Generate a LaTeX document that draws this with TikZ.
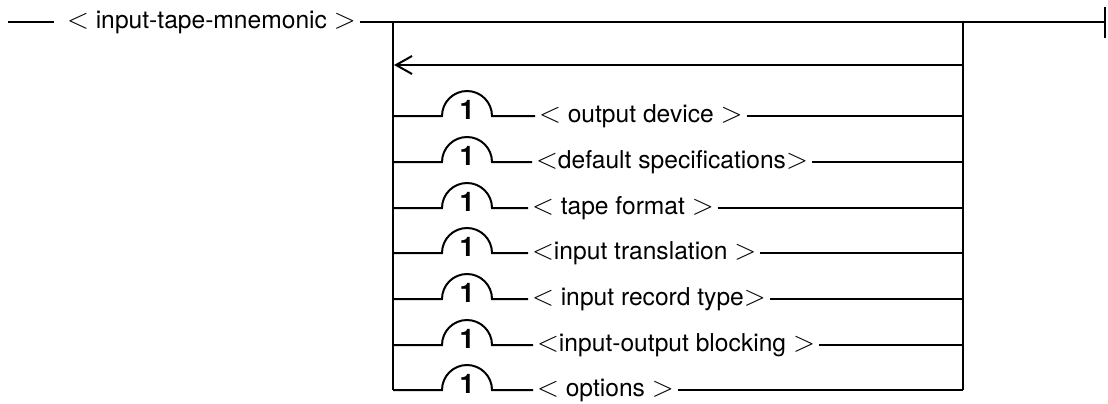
\documentclass[tikz,border=0pt]{standalone}
\usepackage{fontspec}
\setmainfont{TeX Gyre Heros}
\usepackage{tikz}
\usetikzlibrary{arrows.meta}
\def\lsym{{\fontsize{15}{15}\selectfont$<$}}
\def\rsym{{\fontsize{15}{15}\selectfont$>$}}
\tikzset{
	term/.style={inner xsep=1.5pt, inner ysep=0pt, anchor=west, font=\fontsize{12.3}{14}\selectfont},
	one/.style={inner sep=0pt, font=\fontsize{13.5}{14}\selectfont\bfseries},
	rail/.style={line width=1pt}
}

\begin{document}
\begin{tikzpicture}[x=0.5pt, y=-0.5pt, rail]
			%%%%% START %%%%%
			\useasboundingbox (0, 0) rectangle (1108, 403);
			
			% main line
			\coordinate (start) at (8, 22);
			\node[term] (mnem) at (63, 22) {\lsym\ input-tape-mnemonic \rsym};
			\coordinate (tl) at (393, 22);
			\coordinate (tr) at (963, 22);
			\coordinate (fin) at (1105, 22);
			\draw (start) -- ([xshift=-4.5pt]mnem.west);
			\draw (mnem.east) -- (fin);
			\draw (fin) ++(0, -15) -- ++(0, 31);
			
			% return arrow
			\coordinate (al) at (394, 65);
			\coordinate (ar) at (963, 65);
			\draw[-{Straight Barb[length=8pt, width=9pt, line width=1pt]}] (ar) -- (al);
			
			% options
			\coordinate (l1) at (393, 116);
			\node[one] (n1) at (467, 110) {1};
			\node[term] (t1) at (535, 116) {\lsym\ output device \rsym};
			\coordinate (r1) at (963, 116);
			\draw (l1) -- ++(49, 0) arc (180:360:25) -- (t1.west);
			\draw (t1.east) -- (r1);
			
			\coordinate (l2) at (393, 162);
			\node[one] (n2) at (467, 156) {1};
			\node[term] (t2) at (532, 162) {\lsym default specifications\rsym};
			\coordinate (r2) at (963, 162);
			\draw (l2) -- ++(49, 0) arc (180:360:25) -- (t2.west);
			\draw (t2.east) -- (r2);
			
			\coordinate (l3) at (393, 208);
			\node[one] (n3) at (467, 202) {1};
			\node[term] (t3) at (528, 208) {\lsym\ tape format \rsym};
			\coordinate (r3) at (963, 208);
			\draw (l3) -- ++(49, 0) arc (180:360:25) -- (t3.west);
			\draw (t3.east) -- (r3);
			
			\coordinate (l4) at (393, 253);
			\node[one] (n4) at (467, 247) {1};
			\node[term] (t4) at (528, 253) {\lsym input translation \rsym};
			\coordinate (r4) at (963, 253);
			\draw (l4) -- ++(49, 0) arc (180:360:25) -- (t4.west);
			\draw (t4.east) -- (r4);
			
			\coordinate (l5) at (393, 299);
			\node[one] (n5) at (467, 293) {1};
			\node[term] (t5) at (528, 299) {\lsym\ input record type\rsym};
			\coordinate (r5) at (963, 299);
			\draw (l5) -- ++(49, 0) arc (180:360:25) -- (t5.west);
			\draw (t5.east) -- (r5);
			
			\coordinate (l6) at (393, 345);
			\node[one] (n6) at (467, 339) {1};
			\node[term] (t6) at (533, 345) {\lsym input-output blocking \rsym};
			\coordinate (r6) at (963, 345);
			\draw (l6) -- ++(49, 0) arc (180:360:25) -- (t6.west);
			\draw (t6.east) -- (r6);
			
			\coordinate (l7) at (393, 390);
			\node[one] (n7) at (467, 384) {1};
			\node[term] (t7) at (533, 390) {\lsym\ options \rsym};
			\coordinate (r7) at (963, 390);
			\draw (l7) -- ++(49, 0) arc (180:360:25) -- (t7.west);
			\draw (t7.east) -- (r7);
			
			% side rails
			\draw (tl) -- (l7);
			\draw (tr) -- (r7);
			%%%%% END %%%%%
		\end{tikzpicture}
\end{document}
